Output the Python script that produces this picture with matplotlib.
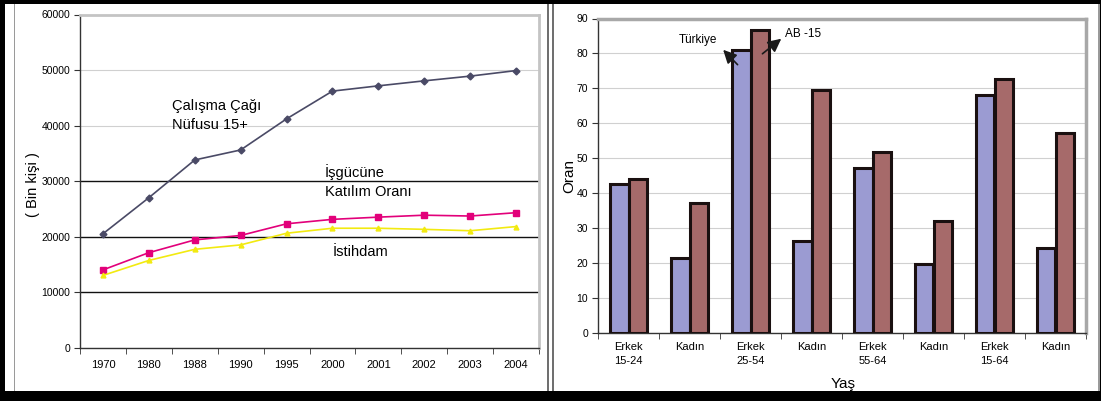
import matplotlib
matplotlib.use("Agg")
import matplotlib.pyplot as plt
import numpy as np
from matplotlib.patches import Rectangle

plt.rcParams['font.family'] = ['Liberation Sans', 'DejaVu Sans']

# ---------------- data: left chart ----------------
years = ['1970', '1980', '1988', '1990', '1995', '2000', '2001', '2002', '2003', '2004']
calisma_cagi = [20500, 27000, 33800, 35600, 41200, 46200, 47150, 48050, 48900, 49900]
isgucu = [14000, 17100, 19400, 20200, 22300, 23100, 23500, 23850, 23700, 24300]
istihdam = [13000, 15700, 17700, 18500, 20600, 21500, 21500, 21300, 21050, 21800]

# ---------------- data: right chart ----------------
groups = ['Erkek\n15-24', 'Kadın', 'Erkek\n25-54', 'Kadın', 'Erkek\n55-64', 'Kadın', 'Erkek\n15-64', 'Kadın']
turkiye = [42.7, 21.3, 81.0, 26.4, 47.3, 19.8, 68.0, 24.4]
ab15 = [43.9, 37.2, 86.6, 69.4, 51.9, 32.1, 72.8, 57.3]

W, H = 1101, 401
fig = plt.figure(figsize=(W / 100, H / 100), dpi=100)
fig.patch.set_facecolor('white')

def fx(px):
    return px / W

def fy(py):
    return 1 - py / H

# ---------------- left axes ----------------
axL = fig.add_axes([fx(80), fy(347.6), fx(539) - fx(80), fy(14.5) - fy(347.6)])
x = np.arange(len(years))
axL.plot(x, calisma_cagi, color='#4A4A66', lw=1.2, marker='D', ms=3.5, zorder=3)
axL.plot(x, isgucu, color='#E2007A', lw=1.2, marker='s', ms=4.5, zorder=3)
axL.plot(x, istihdam, color='#F2EA10', lw=1.2, marker='^', ms=3.5, zorder=3)
axL.set_xlim(-0.5, len(years) - 0.5)
axL.set_ylim(0, 60000)
axL.set_yticks(np.arange(0, 60001, 10000))
axL.set_yticklabels([str(v) for v in range(0, 60001, 10000)], fontsize=7.5)
axL.set_xticks(x)
axL.set_xticklabels(years, fontsize=8)
axL.set_xticks(np.arange(-0.5, len(years) - 0.4, 1), minor=True)
axL.tick_params(axis='x', which='major', length=0, pad=9)
axL.tick_params(axis='x', which='minor', length=4, direction='out', color='#333333')
axL.tick_params(axis='y', length=4, direction='out', color='#333333', pad=3)
axL.yaxis.grid(True, zorder=0)
for val, gl in zip(axL.get_yticks(), axL.get_ygridlines()):
    if val in (10000, 20000, 30000):
        gl.set_color('#111111'); gl.set_linewidth(1.0)
    else:
        gl.set_color('#d0d0d0'); gl.set_linewidth(0.8)
axL.set_axisbelow(True)
for s in ('left', 'bottom'):
    axL.spines[s].set_color('#333333'); axL.spines[s].set_linewidth(1.0)
for s in ('top', 'right'):
    axL.spines[s].set_color('#c4c4c4'); axL.spines[s].set_linewidth(2.0)
axL.set_ylabel('( Bin kişi )', fontsize=10.5)
axL.yaxis.set_label_coords((40 - 80) / (539 - 80), (347.6 - 185) / (347.6 - 14.5))
axL.text(1.5, 41800, 'Çalışma Çağı\nNüfusu 15+', fontsize=10.5, ha='left', va='center', linespacing=1.5)
axL.text(4.83, 29900, 'İşgücüne\nKatılım Oranı', fontsize=10.5, ha='left', va='center', linespacing=1.5)
axL.text(5.0, 17240, 'İstihdam', fontsize=10.5, ha='left', va='center')

# ---------------- right axes ----------------
axR = fig.add_axes([fx(598), fy(332.7), fx(1086) - fx(598), fy(18.5) - fy(332.7)])
xr = np.arange(len(groups))
bw = 0.30
axR.bar(xr - bw / 2, turkiye, width=bw, color='#9B9BD2', edgecolor='#1a1010', linewidth=2.2, zorder=3)
axR.bar(xr + bw / 2, ab15, width=bw, color='#A66A6A', edgecolor='#1a1010', linewidth=2.2, zorder=3)
axR.set_xlim(-0.5, len(groups) - 0.5)
axR.set_ylim(0, 90)
axR.set_yticks(np.arange(0, 91, 10))
axR.set_yticklabels([str(v) for v in range(0, 91, 10)], fontsize=7.5)
axR.set_xticks(xr)
axR.set_xticklabels(groups, fontsize=8, linespacing=1.5)
axR.set_xticks(np.arange(-0.5, len(groups) - 0.4, 1), minor=True)
axR.tick_params(axis='x', which='major', length=0, pad=7)
axR.tick_params(axis='x', which='minor', length=4, direction='out', color='#333333')
axR.tick_params(axis='y', length=4, direction='out', color='#333333', pad=3)
axR.yaxis.grid(True, color='#d0d0d0', linewidth=0.8, zorder=0)
axR.set_axisbelow(True)
for s in ('left', 'bottom'):
    axR.spines[s].set_color('#333333'); axR.spines[s].set_linewidth(1.0)
for s in ('top', 'right'):
    axR.spines[s].set_color('#a8a8a8'); axR.spines[s].set_linewidth(2.5)
axR.set_ylabel('Oran', fontsize=11)
axR.yaxis.set_label_coords((576 - 598) / (1086 - 598), 0.5)
axR.set_xlabel('Yaş', fontsize=11)
axR.xaxis.set_label_coords((843 - 598) / (1086 - 598), -(377 - 332.7) / (332.7 - 18.5))

axR.annotate('', xy=(1.52, 81.6), xytext=(1.82, 76.2),
             arrowprops=dict(arrowstyle='-|>,head_length=0.8,head_width=0.4', color='#1a1a1a', lw=1.2))
axR.text(1.46, 83.9, 'Türkiye', fontsize=8.5, ha='right', va='center')
axR.annotate('', xy=(2.54, 84.7), xytext=(2.16, 79.4),
             arrowprops=dict(arrowstyle='-|>,head_length=0.8,head_width=0.4', color='#1a1a1a', lw=1.2))
axR.text(2.57, 85.6, 'AB -15', fontsize=8.5, ha='left', va='center')

# ---------------- frame decorations ----------------
def rect(x0, y0, x1, y1, color):
    fig.add_artist(Rectangle((fx(x0), fy(y1)), fx(x1) - fx(x0), fy(y0) - fy(y1),
                             transform=fig.transFigure, facecolor=color, edgecolor='none', zorder=10))

rect(0, 0, W, 4, 'black')
rect(0, 391, W, H, 'black')
rect(0, 0, 5, H, 'black')
rect(1100, 0, W, H, 'black')
rect(13.5, 4, 15, 391, '#9a9a9a')
rect(547, 4, 549, 391, '#707070')
rect(551.5, 4, 553.5, 391, '#707070')
rect(1097.5, 4, 1099.5, 391, '#9a9a9a')

fig.savefig('out.png', dpi=100, facecolor='white')
